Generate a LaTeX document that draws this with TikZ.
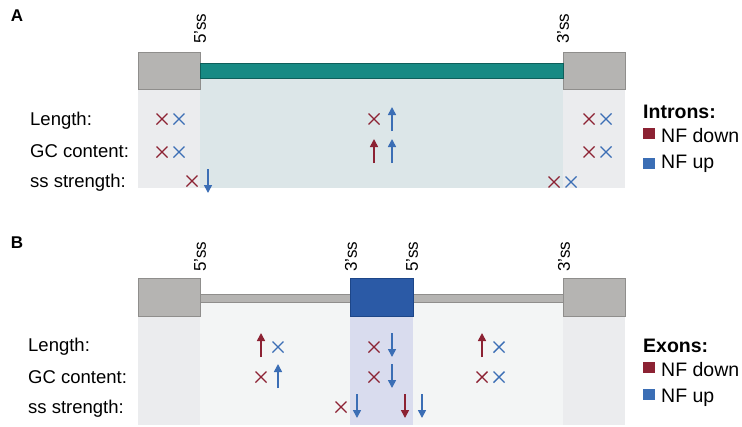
\documentclass[tikz,border=0pt]{standalone}
\usepackage{fontspec}
\setmainfont{Liberation Sans}
\usetikzlibrary{arrows.meta}

\definecolor{dred}{HTML}{8C2233}
\definecolor{nblue}{HTML}{3B6EB5}
\definecolor{boxgrey}{HTML}{B5B4B2}
\definecolor{boxline}{HTML}{8F8E8C}
\definecolor{colgrey}{HTML}{EBECEE}
\definecolor{tealbar}{HTML}{178A84}
\definecolor{tealline}{HTML}{0E5F5B}
\definecolor{tealbg}{HTML}{DCE6E8}
\definecolor{palebg}{HTML}{F3F5F5}
\definecolor{exblue}{HTML}{2B5AA6}
\definecolor{exline}{HTML}{1D4688}
\definecolor{exbg}{HTML}{D9DCEE}

\tikzset{
  lbl/.style={anchor=base west, inner sep=0pt, font=\fontsize{18.5}{20}\selectfont},
  leg/.style={anchor=base west, inner sep=0pt, font=\fontsize{19.5}{21}\selectfont},
  ssl/.style={rotate=90, anchor=west, inner sep=0pt, font=\fontsize{17}{19}\selectfont},
  panel/.style={inner sep=0pt, font=\fontsize{17}{19}\selectfont\bfseries},
  endbox/.style={fill=boxgrey, draw=boxline, line width=1pt},
  crs/.pic={\draw[line width=1.4pt] (-5.5,-5.5) -- (5.5,5.5) (-5.5,5.5) -- (5.5,-5.5);},
  uparr/.pic={\draw[line width=1.6pt,-{Triangle[length=8pt,width=8pt]}] (0,12) -- (0,-12);},
  dnarr/.pic={\draw[line width=1.6pt,-{Triangle[length=8pt,width=8pt]}] (0,-12) -- (0,12);},
}

\begin{document}
\begin{tikzpicture}[x=1pt,y=-1pt]
\useasboundingbox (0,0) rectangle (742,426);

% panel A: introns
\node[panel] (pa) at (17,16) {A};
\fill[colgrey] (138,89) rectangle (200,188);
\fill[tealbg] (200,78) rectangle (563,188);
\fill[colgrey] (563,89) rectangle (625,188);
\draw[endbox] (138,52) rectangle (200,89);
\draw[endbox] (563,52) rectangle (625,89);
\draw[fill=tealbar, draw=tealline, line width=1pt] (200,63) rectangle (563,78);
\node[ssl] (a5ss) at (200,44) {5'ss};
\node[ssl] (a3ss) at (563,44) {3'ss};

\node[lbl] (alen) at (30,125) {Length:};
\node[lbl] (agc) at (30,157) {GC content:};
\node[lbl] (ass) at (30,187) {ss strength:};

% left one
\pic[color=dred] at (162,119) {crs};
\pic[color=nblue] at (179,119) {crs};
\pic[color=dred] at (162,152) {crs};
\pic[color=nblue] at (179,152) {crs};
\pic[color=dred] at (192,181) {crs};
\pic[color=nblue] at (208,181) {dnarr};

% middle one
\pic[color=dred] at (374,119) {crs};
\pic[color=nblue] at (392,119) {uparr};
\pic[color=dred] at (374,151) {uparr};
\pic[color=nblue] at (392,151) {uparr};

% right one
\pic[color=dred] at (589,119) {crs};
\pic[color=nblue] at (606,119) {crs};
\pic[color=dred] at (589,152) {crs};
\pic[color=nblue] at (606,152) {crs};
\pic[color=dred] at (554,182) {crs};
\pic[color=nblue] at (571,182) {crs};

% legend A
\node[leg, font=\fontsize{19.5}{21}\selectfont\bfseries] (aleg) at (643,118) {Introns:};
\fill[dred] (643,128) rectangle (655,139);
\node[leg] (adown) at (661,142) {NF down};
\fill[nblue] (643,158) rectangle (655,169);
\node[leg] (aup) at (661,168) {NF up};

% panel B: exons
\node[panel] (pb) at (17,243) {B};
\fill[colgrey] (138,316) rectangle (200,425);
\fill[palebg] (200,302) rectangle (563,425);
\fill[colgrey] (563,316) rectangle (625,425);
\fill[exbg] (350,316) rectangle (413,425);
\draw[endbox] (138,278) rectangle (200,316);
\draw[endbox] (563,278) rectangle (625,316);
\draw[fill=boxgrey, draw=boxline, line width=1pt] (200,294) rectangle (350,302);
\draw[fill=boxgrey, draw=boxline, line width=1pt] (413,294) rectangle (563,302);
\draw[fill=exblue, draw=exline, line width=1pt] (350,278) rectangle (413,316);
\node[ssl] (b5ssa) at (200,272) {5'ss};
\node[ssl] (b3ssa) at (351,272) {3'ss};
\node[ssl] (b5ssb) at (412,272) {5'ss};
\node[ssl] (b3ssb) at (564,272) {3'ss};

\node[lbl] (blen) at (28,351) {Length:};
\node[lbl] (bgc) at (28,383) {GC content:};
\node[lbl] (bss) at (28,413) {ss strength:};

% upstream intron
\pic[color=dred] at (261,345) {uparr};
\pic[color=nblue] at (278,347) {crs};
\pic[color=dred] at (261,377) {crs};
\pic[color=nblue] at (278,376) {uparr};

% exon
\pic[color=dred] at (374,347) {crs};
\pic[color=nblue] at (392,345) {dnarr};
\pic[color=dred] at (374,377) {crs};
\pic[color=nblue] at (392,376) {dnarr};
\pic[color=dred] at (341,407) {crs};
\pic[color=nblue] at (357,406) {dnarr};
\pic[color=dred] at (405,406) {dnarr};
\pic[color=nblue] at (422,406) {dnarr};

% downstream intron
\pic[color=dred] at (482,345) {uparr};
\pic[color=nblue] at (499,347) {crs};
\pic[color=dred] at (482,377) {crs};
\pic[color=nblue] at (499,377) {crs};

% legend B
\node[leg, font=\fontsize{19.5}{21}\selectfont\bfseries] (bleg) at (643,352) {Exons:};
\fill[dred] (643,362) rectangle (655,373);
\node[leg] (bdown) at (661,376) {NF down};
\fill[nblue] (643,389) rectangle (655,400);
\node[leg] (bup) at (661,402) {NF up};

\end{tikzpicture}
\end{document}
